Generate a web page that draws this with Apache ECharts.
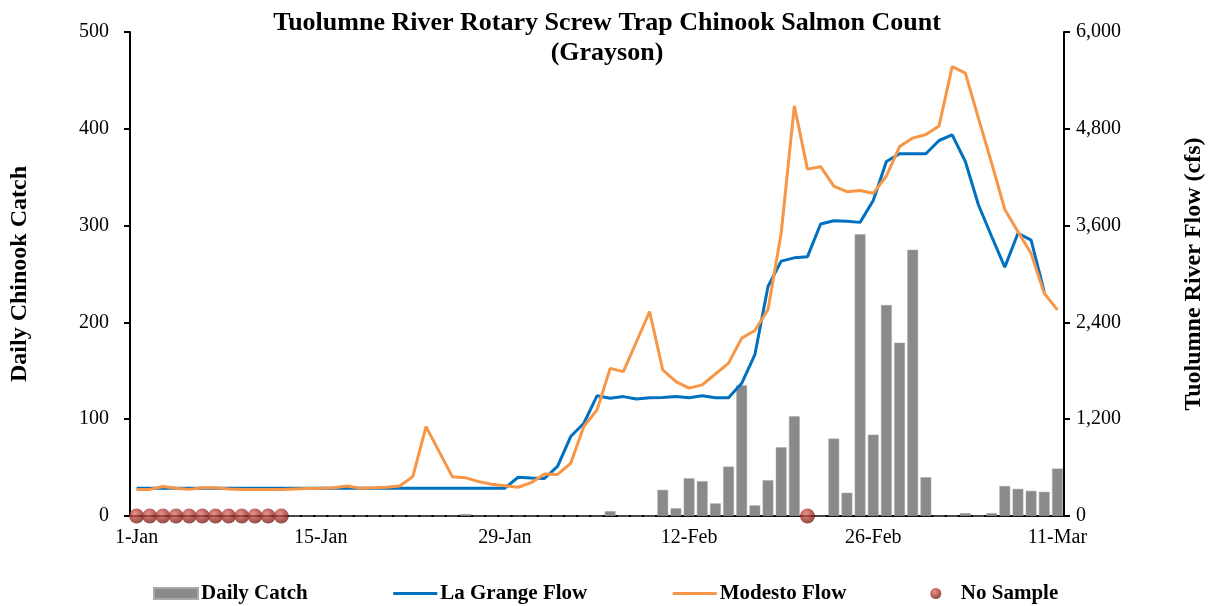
<!DOCTYPE html>
<html>
<head>
<meta charset="utf-8">
<script src="https://cdn.jsdelivr.net/npm/echarts@6/dist/echarts.min.js"></script>
<style>
  html, body { margin: 0; padding: 0; background: #ffffff; }
  #chart { width: 1214px; height: 606px; }
</style>
</head>
<body>
<div id="chart"></div>
<script>
// season runs 1-Jan .. 11-Mar (leap year, Feb has 29 days)
var months = [['Jan', 31], ['Feb', 29], ['Mar', 11]];
var dates = [];
months.forEach(function (m) {
  for (var d = 1; d <= m[1]; d++) dates.push(d + '-' + m[0]);
});

// daily chinook catch (null = no sample)
var dailyCatch = [
  null, null, null, null, null, null, null, null, null, null,
  null, null, 0, 0, 0, 0, 0, 0, 0, 0,
  0, 0, 0, 0, 0, 2, 0, 0, 0, 0,
  0, 0, 0, 0, 0, 0, 5, 0, 0, 0,
  27, 8, 39, 36, 13, 51, 135, 11, 37, 71,
  103, null, 0, 80, 24, 291, 84, 218, 179, 275,
  40, 0, 0, 3, 0, 3, 31, 28, 26, 25,
  49
];

// flows in cfs
var laGrangeFlow = [
  345, 345, 345, 345, 345, 345, 345, 345, 345, 345,
  345, 345, 345, 345, 345, 345, 345, 345, 345, 345,
  345, 345, 345, 345, 345, 345, 345, 345, 345, 480,
  470, 465, 615, 985, 1150, 1490, 1460, 1480, 1450, 1465,
  1470, 1480, 1465, 1490, 1465, 1465, 1645, 2000, 2845, 3160,
  3200, 3215, 3620, 3660, 3655, 3640, 3910, 4395, 4490, 4490,
  4490, 4655, 4725, 4395, 3855, 3465, 3085, 3505, 3420, 2780,
  null
];

var modestoFlow = [
  330, 330, 365, 345, 330, 350, 350, 335, 330, 330,
  330, 330, 335, 340, 345, 350, 372, 345, 350, 356,
  372, 488, 1108, 798, 488, 475, 426, 393, 376, 356,
  413, 521, 515, 653, 1110, 1315, 1830, 1790, 2160, 2535,
  1810, 1665, 1585, 1625, 1760, 1895, 2205, 2300, 2560, 3505,
  5085, 4300, 4330, 4090, 4020, 4035, 4000, 4215, 4580, 4685,
  4730, 4835, 5570, 5490, 4930, 4375, 3800, 3525, 3255, 2760,
  2555
];

var noSampleDays = ['1-Jan', '2-Jan', '3-Jan', '4-Jan', '5-Jan', '6-Jan',
  '7-Jan', '8-Jan', '9-Jan', '10-Jan', '11-Jan', '12-Jan', '21-Feb'];

var serif = 'Liberation Serif';

var chart = echarts.init(document.getElementById('chart'), null, { renderer: 'canvas' });

var option = {
  backgroundColor: '#ffffff',
  animation: false,
  title: {
    text: 'Tuolumne River Rotary Screw Trap Chinook Salmon Count\n(Grayson)',
    left: 'center',
    top: 3,
    textStyle: {
      fontFamily: serif,
      fontSize: 26,
      fontWeight: 'bold',
      color: '#000000',
      lineHeight: 30
    }
  },
  legend: {
    bottom: -3,
    left: 148,
    itemWidth: 44,
    itemHeight: 11,
    itemGap: 84,
    lineStyle: { width: 3 },
    textStyle: {
      fontFamily: serif, fontSize: 21, fontWeight: 'bold', color: '#000000',
      padding: [0, 0, 0, -2]
    },
    data: [
      { name: 'Daily Catch', icon: 'rect' },
      'La Grange Flow',
      'Modesto Flow',
      'No Sample'
    ]
  },
  grid: { left: 128, right: 148, top: 32, bottom: 90 },
  xAxis: [{
    type: 'category',
    data: dates,
    boundaryGap: true,
    axisLine: { lineStyle: { color: '#000000', width: 2 } },
    axisTick: { interval: 0, length: 5, lineStyle: { color: '#000000', width: 2 } },
    axisLabel: {
      interval: 13,
      margin: 12,
      fontFamily: serif,
      fontSize: 20,
      color: '#000000'
    },
    splitLine: { show: false }
  }, {
    // longer ticks at each labelled date
    type: 'category',
    data: dates,
    position: 'bottom',
    boundaryGap: true,
    axisLine: { show: false },
    axisTick: { interval: 13, length: 8, lineStyle: { color: '#000000', width: 2 } },
    axisLabel: { show: false },
    splitLine: { show: false }
  }],
  yAxis: [{
    type: 'value',
    min: 0,
    max: 500,
    interval: 100,
    name: 'Daily Chinook Catch',
    nameLocation: 'middle',
    nameGap: 98,
    nameTextStyle: { fontFamily: serif, fontSize: 24, fontWeight: 'bold', color: '#000000' },
    axisLine: { show: true, lineStyle: { color: '#000000', width: 2 } },
    axisTick: { show: true, length: 6, lineStyle: { color: '#000000', width: 2 } },
    axisLabel: { margin: 21, fontFamily: serif, fontSize: 20, color: '#000000' },
    splitLine: { show: false }
  }, {
    type: 'value',
    min: 0,
    max: 6000,
    interval: 1200,
    position: 'right',
    name: 'Tuolumne River Flow (cfs)',
    nameLocation: 'middle',
    nameGap: 118,
    nameTextStyle: { fontFamily: serif, fontSize: 24, fontWeight: 'bold', color: '#000000' },
    axisLine: { show: true, lineStyle: { color: '#000000', width: 2 } },
    axisTick: { show: true, length: 6, lineStyle: { color: '#000000', width: 2 } },
    axisLabel: {
      margin: 12,
      fontFamily: serif,
      fontSize: 20,
      color: '#000000',
      formatter: function (v) { return v.toLocaleString('en-US'); }
    },
    splitLine: { show: false }
  }],
  series: [{
    name: 'Daily Catch',
    type: 'bar',
    data: dailyCatch,
    barWidth: '82%',
    itemStyle: { color: '#8a8a8a', borderColor: '#a9a9a9', borderWidth: 0.5 }
  }, {
    name: 'La Grange Flow',
    type: 'line',
    yAxisIndex: 1,
    data: laGrangeFlow,
    symbol: 'none',
    lineStyle: { color: '#0070C0', width: 3 },
    itemStyle: { color: 'rgba(0,0,0,0)' },  // hides the dot in the legend icon
    z: 3
  }, {
    name: 'Modesto Flow',
    type: 'line',
    yAxisIndex: 1,
    data: modestoFlow,
    symbol: 'none',
    lineStyle: { color: '#F79646', width: 3 },
    itemStyle: { color: 'rgba(0,0,0,0)' },
    z: 4
  }, {
    name: 'No Sample',
    type: 'scatter',
    data: noSampleDays.map(function (d) { return [d, 0]; }),
    symbolSize: 15,
    clip: false,
    itemStyle: {
      color: new echarts.graphic.RadialGradient(0.4, 0.35, 0.7, [
        { offset: 0, color: '#de7c73' },
        { offset: 0.45, color: '#b5433d' },
        { offset: 1, color: '#6e1c19' }
      ])
    },
    z: 5
  }]
};

chart.setOption(option);
</script>
</body>
</html>
